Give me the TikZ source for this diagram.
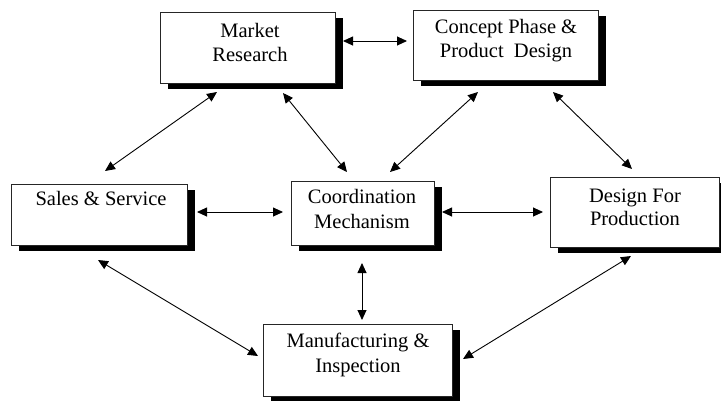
\documentclass[tikz,border=0pt]{standalone}
\usepackage{fontspec}
\setmainfont{Liberation Serif}
\usetikzlibrary{shadows,arrows.meta}
\begin{document}
\begin{tikzpicture}[x=1pt,y=-1pt,
  box/.style={rectangle, draw=black!85, line width=0.7pt, fill=white, inner sep=0pt,
    drop shadow={shadow xshift=8pt, shadow yshift=-6pt, fill=black, opacity=1}},
  txt/.style={anchor=base, inner sep=0pt, font=\fontsize{20.5}{24}\selectfont},
  link/.style={line width=0.9pt, {Triangle[length=10pt,width=9pt]}-{Triangle[length=10pt,width=9pt]}}
]
\useasboundingbox (0,0) rectangle (721,400);
% boxes
\node[box, minimum width=175pt, minimum height=71pt] (mr) at (247.5,47.5) {};
\node[box, minimum width=185pt, minimum height=70pt] (cp) at (505.5,45) {};
\node[box, minimum width=176pt, minimum height=61pt] (ss) at (99,214.5) {};
\node[box, minimum width=143pt, minimum height=64pt] (cm) at (362.5,213) {};
\node[box, minimum width=169pt, minimum height=70pt] (dp) at (634.5,212) {};
\node[box, minimum width=189pt, minimum height=72pt] (mi) at (357.5,360) {};
% texts
\node[txt] (mr1) at (250,37) {Market};
\node[txt] (mr2) at (250,61) {Research};
\node[txt] (cp1) at (506,33) {Concept Phase \&};
\node[txt] (cp2) at (506,57) {Product\ \ Design};
\node[txt] (ss1) at (101,205) {Sales \& Service};
\node[txt] (cm1) at (362,203) {Coordination};
\node[txt] (cm2) at (362,228) {Mechanism};
\node[txt] (dp1) at (635,202) {Design For};
\node[txt] (dp2) at (635,225) {Production};
\node[txt] (mi1) at (358,347) {Manufacturing \&};
\node[txt] (mi2) at (358,372) {Inspection};
% connector ends
\coordinate (a1) at (343,41);  \coordinate (b1) at (407,41);
\coordinate (a2) at (217,92);  \coordinate (b2) at (105,171);
\coordinate (a3) at (283,93);  \coordinate (b3) at (347,172);
\coordinate (a4) at (478,92);  \coordinate (b4) at (390,172);
\coordinate (a5) at (553,92);  \coordinate (b5) at (632,169);
\coordinate (a6) at (197,212); \coordinate (b6) at (283,212);
\coordinate (a7) at (442,212); \coordinate (b7) at (543,212);
\coordinate (a8) at (362,263); \coordinate (b8) at (362,320);
\coordinate (a9) at (98,260);  \coordinate (b9) at (258,356);
\coordinate (a10) at (631,256); \coordinate (b10) at (463,359);
% connectors
\draw[link] (a1) -- (b1);
\draw[link] (a2) -- (b2);
\draw[link] (a3) -- (b3);
\draw[link] (a4) -- (b4);
\draw[link] (a5) -- (b5);
\draw[link] (a6) -- (b6);
\draw[link] (a7) -- (b7);
\draw[link] (a8) -- (b8);
\draw[link] (a9) -- (b9);
\draw[link] (a10) -- (b10);
\end{tikzpicture}
\end{document}
